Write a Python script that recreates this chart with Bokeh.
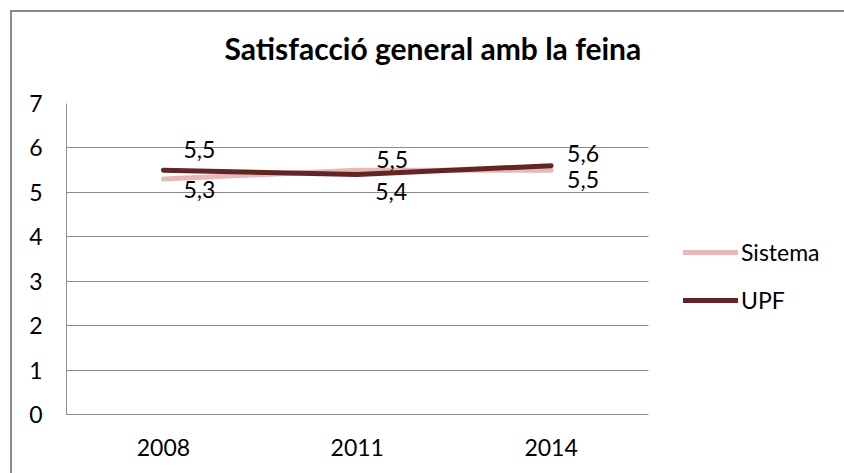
from bokeh.plotting import figure
from bokeh.models import ColumnDataSource, Range1d, Legend, LegendItem, Title, FixedTicker
from bokeh.core.properties import value
from bokeh.embed import file_html
from bokeh.resources import INLINE

# ---- data ----
years = ["2008", "2011", "2014"]
sistema = [5.3, 5.5, 5.5]
upf = [5.5, 5.4, 5.6]
y_ticks = [0, 1, 2, 3, 4, 5, 6, 7]
title_text = "Satisfacció general amb la feina"

# ---- style ----
FONT = "Lato"
C_SIS = "#E6B9B8"
C_UPF = "#632523"
GRID = "#8c8c8c"
X_END = 4.024          # extra room on the right of the categories for the legend

# label offsets (pixels) per point
sis_dx = [20, 19, 16]
sis_dy = [10, -11, 9]
upf_dx = [20, 18, 16]
upf_dy = [-21, 17, -12]

n = len(years)
xpos = [i + 0.5 for i in range(n)]   # category centres

p = figure(width=834, height=463, output_backend="svg", toolbar_location=None,
           x_range=Range1d(0, X_END), y_range=Range1d(0, 7),
           min_border_left=54, min_border_right=0, min_border_top=91, min_border_bottom=61)
p.outline_line_color = None
p.background_fill_color = "white"
p.border_fill_color = "white"
p.styles = {"margin-left": "10px", "margin-top": "10px",
            "border-top": "2px solid #8a8a8a", "border-left": "2px solid #8a8a8a",
            "box-sizing": "border-box"}

# main title (outermost) and a spacer between it and the plot area
p.title.text = title_text
p.title.align = "left"
p.title.offset = 158
p.title.standoff = 0
p.title.vertical_align = "bottom"
p.title.text_font = FONT
p.title.text_font_size = "30px"
p.title.text_font_style = "bold"
p.title.text_color = "black"
spacer = Title(text=" ", text_font_size="2px", standoff=34)
p.add_layout(spacer, "above")

p.xgrid.grid_line_color = None
p.ygrid.grid_line_color = GRID
p.ygrid.grid_line_width = 1
p.yaxis.ticker = FixedTicker(ticks=y_ticks)
try:
    p.ygrid.cross_bounds = (0, n)
except AttributeError:
    p.ygrid.grid_line_color = None
    p.segment(x0=[0] * len(y_ticks), x1=[n] * len(y_ticks), y0=y_ticks, y1=y_ticks,
              line_color=GRID, line_width=1)

p.xaxis.ticker = FixedTicker(ticks=xpos)
p.xaxis.major_label_overrides = {x: y for x, y in zip(xpos, years)}
p.xaxis.bounds = (0, n)

for ax in (p.xaxis[0], p.yaxis[0]):
    ax.axis_line_color = GRID
    ax.axis_line_width = 1
    ax.major_tick_line_color = None
    ax.minor_tick_line_color = None
    ax.major_tick_out = 0
    ax.major_tick_in = 0
    ax.major_label_text_font = FONT
    ax.major_label_text_font_size = "23px"
    ax.major_label_text_color = "black"
p.yaxis.major_label_standoff = 24
p.xaxis.major_label_standoff = 24

src = ColumnDataSource(dict(x=xpos, sis=sistema, upf=upf,
                            sis_lab=[f"{v:.1f}".replace(".", ",") for v in sistema],
                            upf_lab=[f"{v:.1f}".replace(".", ",") for v in upf],
                            sdx=sis_dx, sdy=sis_dy, udx=upf_dx, udy=upf_dy))

r_sis = p.line("x", "sis", source=src, line_color=C_SIS, line_width=5, line_cap="round", line_join="round")
r_upf = p.line("x", "upf", source=src, line_color=C_UPF, line_width=5, line_cap="round", line_join="round")

p.text("x", "sis", text="sis_lab", source=src, x_offset="sdx", y_offset="sdy",
       text_font=value(FONT), text_font_size="23px", text_color="black",
       text_align="left", text_baseline="alphabetic")
p.text("x", "upf", text="upf_lab", source=src, x_offset="udx", y_offset="udy",
       text_font=value(FONT), text_font_size="23px", text_color="black",
       text_align="left", text_baseline="alphabetic")

legend = Legend(items=[LegendItem(label="Sistema", renderers=[r_sis]),
                       LegendItem(label="UPF", renderers=[r_upf])],
                location=(617, 90), orientation="vertical",
                label_text_font=FONT, label_text_font_size="23px", label_text_color="black",
                glyph_width=55, glyph_height=48, label_height=48, spacing=0,
                label_standoff=3, padding=0, margin=0,
                border_line_color=None, background_fill_alpha=0)
p.add_layout(legend, "center")

open("out.html", "w").write(file_html(p, INLINE))
